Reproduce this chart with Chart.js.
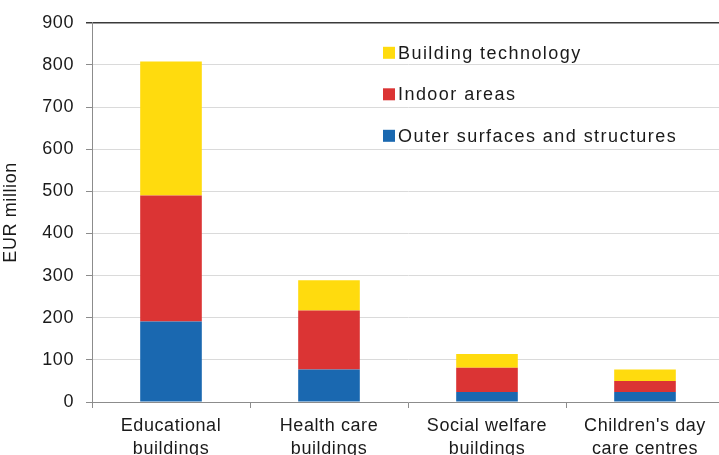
<!DOCTYPE html>
<html lang="en">
<head>
    <meta charset="UTF-8">
    <title>Building repairs by building type</title>
    <script src="https://cdn.jsdelivr.net/npm/chart.js"></script>
    <style>
        html, body { margin: 0; padding: 0; overflow: hidden; background: #fff; }
        #wrap { width: 726px; height: 455px; }
    </style>
</head>
<body>
<div id="wrap"><canvas id="repairChart"></canvas></div>
<script>
    // categories (two-line labels)
    const categories = [
        ['Educational', 'buildings'],
        ['Health care', 'buildings'],
        ['Social welfare', 'buildings'],
        ["Children's day", 'care centres']
    ];
    // EUR million per part, bottom to top
    const outerSurfaces = [191, 77, 24, 24];
    const indoorAreas = [299, 140, 57, 26];
    const buildingTech = [318, 72, 33, 27];
    const yTicks = [0, 100, 200, 300, 400, 500, 600, 700, 800, 900];

    const FONT = 'Liberation Sans, Arial, sans-serif';
    const TEXT = '#1a1a1a';

    // legend drawn inside the plot, top entry = top of the stack
    const insideLegend = {
        id: 'insideLegend',
        afterDatasetsDraw(chart) {
            const ctx = chart.ctx;
            const area = chart.chartArea;
            const sets = chart.data.datasets.slice().reverse();
            ctx.save();
            ctx.font = '18px ' + FONT;
            ctx.letterSpacing = '1.45px';
            ctx.textBaseline = 'middle';
            sets.forEach((ds, i) => {
                const x = area.left + 291;
                const y = area.top + 30 + i * 41.5;
                ctx.fillStyle = ds.backgroundColor;
                ctx.fillRect(x, y - 6, 12, 12);
                ctx.fillStyle = TEXT;
                ctx.fillText(ds.label, x + 15, y + 1);
            });
            ctx.restore();
        }
    };

    // slightly spaced glyphs
    const spacing = {
        id: 'spacing',
        beforeDraw(chart) { chart.ctx.letterSpacing = '0.6px'; }
    };

    const ctx = document.getElementById('repairChart').getContext('2d');
    new Chart(ctx, {
        type: 'bar',
        data: {
            labels: categories,
            datasets: [
                { label: 'Outer surfaces and structures', data: outerSurfaces, backgroundColor: '#1a68b0' },
                { label: 'Indoor areas', data: indoorAreas, backgroundColor: '#db3434' },
                { label: 'Building technology', data: buildingTech, backgroundColor: '#ffdb0e' }
            ]
        },
        options: {
            responsive: true,
            maintainAspectRatio: false,
            animation: false,
            layout: { padding: { top: 22, right: 2, left: 0, bottom: 0 } },
            datasets: { bar: { categoryPercentage: 1, barPercentage: 0.39 } },
            plugins: {
                legend: { display: false },
                tooltip: { enabled: false }
            },
            scales: {
                x: {
                    stacked: true,
                    afterFit(scale) { scale.height = 53; },
                    grid: {
                        offset: true,
                        drawOnChartArea: false,
                        tickLength: 6,
                        tickColor: '#8c8c8c'
                    },
                    border: { color: '#8c8c8c', width: 1 },
                    ticks: {
                        maxRotation: 0,
                        autoSkip: false,
                        padding: 7,
                        color: TEXT,
                        font: { family: FONT, size: 18, lineHeight: 1.25 }
                    }
                },
                y: {
                    stacked: true,
                    min: 0,
                    max: 900,
                    afterFit(scale) { scale.width = 92; },
                    afterBuildTicks(scale) { scale.ticks = yTicks.map(v => ({ value: v })); },
                    grid: {
                        tickLength: 6,
                        color: c => c.tick && c.tick.value === 900 ? '#3a3a3a' : '#dadada',
                        tickColor: c => c.tick && c.tick.value === 900 ? '#3a3a3a' : '#8c8c8c',
                        lineWidth: c => c.tick && c.tick.value === 900 ? 1.5 : 1
                    },
                    border: { color: '#8c8c8c', width: 1 },
                    title: {
                        display: true,
                        text: 'EUR million',
                        color: TEXT,
                        padding: { top: 0, bottom: 4 },
                        font: { family: FONT, size: 18 }
                    },
                    ticks: {
                        padding: 12,
                        color: TEXT,
                        font: { family: FONT, size: 18 }
                    }
                }
            }
        },
        plugins: [spacing, insideLegend]
    });
</script>
</body>
</html>
